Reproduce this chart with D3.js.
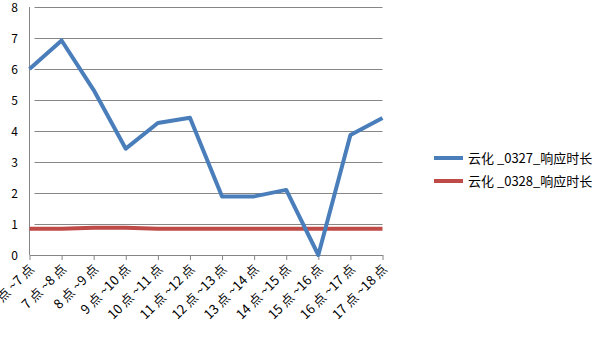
<!DOCTYPE html>
<html>
<head>
<meta charset="utf-8">
<script src="https://cdn.jsdelivr.net/npm/d3@7"></script>
<style>
  body { margin: 0; background: #fff; }
  text { font-family: "Noto Sans CJK SC", "Noto Sans", sans-serif; fill: #000; }
</style>
</head>
<body>
<div id="chart"></div>
<script>
// Categories (time slots) and the two series
const hours = ["6 点 ~7 点", "7 点 ~8 点", "8 点 ~9 点", "9 点 ~10 点", "10 点 ~11 点", "11 点 ~12 点",
               "12 点 ~13 点", "13 点 ~14 点", "14 点 ~15 点", "15 点 ~16 点", "16 点 ~17 点", "17 点 ~18 点"];
const series0327 = [6.0, 6.92, 5.32, 3.43, 4.26, 4.43, 1.89, 1.89, 2.1, 0, 3.87, 4.42];
const series0328 = [0.85, 0.85, 0.88, 0.88, 0.85, 0.85, 0.85, 0.85, 0.85, 0.85, 0.85, 0.85];
const seriesNames = ["云化 _0327_响应时长", "云化 _0328_响应时长"];
const yTicks = [0, 1, 2, 3, 4, 5, 6, 7, 8];

const W = 605, H = 340;
const plot = {left: 29.5, right: 382.5, top: 7, bottom: 255};

const svg = d3.select("#chart").append("svg")
    .attr("width", W)
    .attr("height", H);

const x = d3.scalePoint()
    .domain(hours)
    .range([plot.left, plot.right]);

const y = d3.scaleLinear()
    .domain([0, 8])
    .range([plot.bottom, plot.top]);

// gridlines + y labels
const yAxis = svg.append("g")
    .attr("transform", `translate(${plot.left},0)`)
    .call(d3.axisLeft(y).tickValues(yTicks).tickSize(-(plot.right - plot.left)).tickPadding(10));
yAxis.select(".domain").remove();
yAxis.selectAll(".tick line")
    .attr("x1", 5)
    .attr("stroke", "#868686");
yAxis.selectAll(".tick text")
    .attr("font-size", 12)
    .attr("text-anchor", "middle")
    .attr("x", -15)
    .attr("dy", "0.4em");

// y axis line
svg.append("line")
    .attr("x1", plot.left).attr("x2", plot.left)
    .attr("y1", plot.top).attr("y2", plot.bottom)
    .attr("stroke", "#868686");

// x axis
const xAxis = svg.append("g")
    .attr("transform", `translate(0,${plot.bottom})`)
    .call(d3.axisBottom(x).tickSize(5).tickSizeOuter(0));
xAxis.select(".domain").attr("stroke", "#868686");
xAxis.selectAll(".tick line").attr("stroke", "#868686");
xAxis.selectAll(".tick text")
    .attr("font-size", 13)
    .attr("text-anchor", "end")
    .attr("dy", 0)
    .attr("y", 0)
    .attr("transform", "translate(5,15) rotate(-45)");

const line = d3.line()
    .x((d, i) => x(hours[i]))
    .y(d => y(d));

svg.append("path")
    .datum(series0328)
    .attr("fill", "none")
    .attr("stroke", "#BE4B48")
    .attr("stroke-width", 4)
    .attr("d", line);

svg.append("path")
    .datum(series0327)
    .attr("fill", "none")
    .attr("stroke", "#4A7EBB")
    .attr("stroke-width", 4)
    .attr("stroke-linejoin", "round")
    .attr("d", line);

// legend
const legend = svg.append("g");
[["#4A7EBB", 158], ["#BE4B48", 181]].forEach(([c, ly], i) => {
    legend.append("line")
        .attr("x1", 434).attr("x2", 463)
        .attr("y1", ly).attr("y2", ly)
        .attr("stroke", c)
        .attr("stroke-width", 4);
    legend.append("text")
        .attr("x", 468)
        .attr("y", ly + 4.5)
        .attr("font-size", 13)
        .text(seriesNames[i]);
});
</script>
</body>
</html>
